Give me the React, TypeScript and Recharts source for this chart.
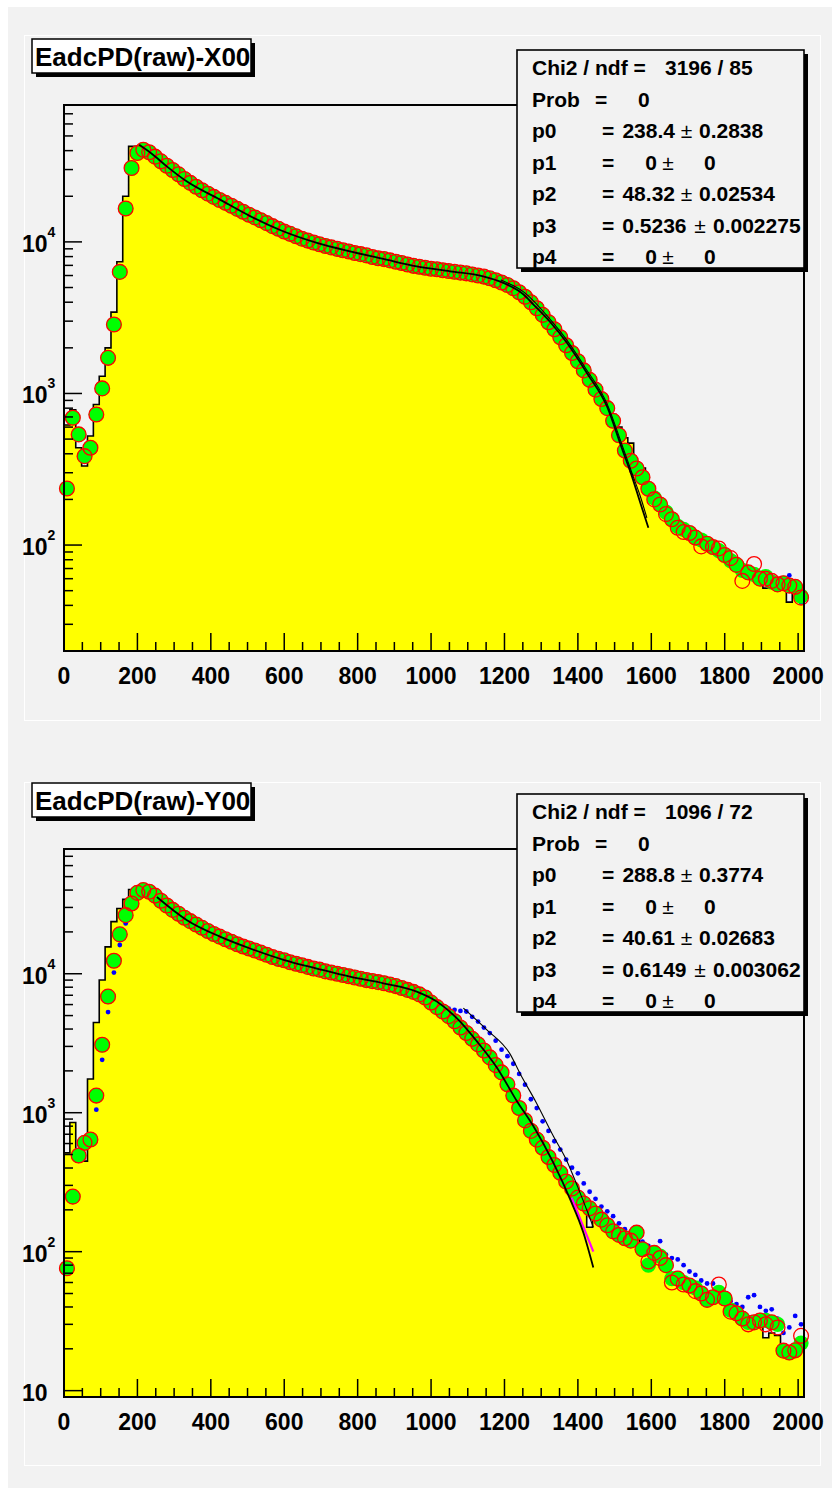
import { ComposedChart, Area, Line, XAxis, YAxis } from 'recharts';

// bin width of the ADC histograms
const BIN = 16;
const X_MAX = 2016;
const FONT = "'Liberation Sans', Arial, Helvetica, sans-serif";

const xTicks = [0, 50, 100, 150, 200, 250, 300, 350, 400, 450, 500, 550, 600, 650, 700, 750, 800, 850, 900, 950, 1000,
  1050, 1100, 1150, 1200, 1250, 1300, 1350, 1400, 1450, 1500, 1550, 1600, 1650, 1700, 1750, 1800, 1850, 1900, 1950, 2000];

const yTicksTop = [20, 30, 40, 50, 60, 70, 80, 90, 100, 200, 300, 400, 500, 600, 700, 800, 900,
  1000, 2000, 3000, 4000, 5000, 6000, 7000, 8000, 9000, 10000, 20000, 30000, 40000, 50000, 60000, 70000, 80000];
const yTicksBottom = [10, 20, 30, 40, 50, 60, 70, 80, 90, 100, 200, 300, 400, 500, 600, 700, 800, 900,
  1000, 2000, 3000, 4000, 5000, 6000, 7000, 8000, 9000, 10000, 20000, 30000, 40000, 50000, 60000, 70000];

// ---- X00 ----
const histX = [620, 780, 438, 332, 524, 845, 1300, 2000, 3440, 7400, 20000, 42700, 42700, 41500, 39000, 36500, 34000, 31800, 29800, 27900,
  26000, 24500, 23100, 21900, 20800, 19800, 18900, 18100, 17300, 16500, 15800, 15100, 14500, 13900, 13300, 12700, 12200, 11700, 11300, 10900,
  10500, 10200, 9900, 9650, 9400, 9200, 9000, 8800, 8650, 8450, 8300, 8150, 7950, 7800, 7700, 7550, 7400, 7250, 7100, 6950,
  6850, 6750, 6650, 6600, 6500, 6420, 6350, 6270, 6200, 6100, 6000, 5900, 5750, 5580, 5400, 5200, 4950, 4650, 4350, 4000,
  3650, 3300, 2950, 2650, 2350, 2080, 1850, 1630, 1420, 1230, 1060, 920, 800, 727, 600, 510, 470, 348, 322, 252,
  211, 172, 152, 145, 135, 128, 120, 112, 108, 102, 97, 92, 86, 79, 74, 68, 66, 64, 60, 52,
  57, 55, 56, 42, 53, 45];
const greenX = [236, 692, 537, 386, 438, 727, 1080, 1718, 2850, 6340, 16600, 30700, 38600, 40500, 39000, 36500, 34000, 31800, 29800, 27900,
  26000, 24500, 23100, 21900, 20800, 19800, 18900, 18100, 17300, 16500, 15800, 15100, 14500, 13900, 13300, 12700, 12200, 11700, 11300, 10900,
  10500, 10200, 9900, 9650, 9400, 9200, 9000, 8800, 8650, 8450, 8300, 8150, 7950, 7800, 7700, 7550, 7400, 7250, 7100, 6950,
  6850, 6750, 6650, 6600, 6500, 6420, 6350, 6270, 6200, 6100, 6000, 5900, 5750, 5580, 5400, 5200, 4950, 4650, 4350, 4000,
  3650, 3300, 2950, 2650, 2350, 2080, 1850, 1630, 1420, 1230, 1060, 920, 800, 660, 530, 420, 360, 320, 280, 235,
  205, 185, 165, 148, 133, 127, 120, 112, 108, 102, 97, 92, 86, 79, 74, 68, 66, 64, 60, 62,
  57, 55, 56, 54, 53, 46];
const redX = [236, 692, 537, 386, 438, 727, 1080, 1718, 2850, 6340, 16600, 30700, 38600, 40500, 39000, 36500, 34000, 31800, 29800, 27900,
  26000, 24500, 23100, 21900, 20800, 19800, 18900, 18100, 17300, 16500, 15800, 15100, 14500, 13900, 13300, 12700, 12200, 11700, 11300, 10900,
  10500, 10200, 9900, 9650, 9400, 9200, 9000, 8800, 8650, 8450, 8300, 8150, 7950, 7800, 7700, 7550, 7400, 7250, 7100, 6950,
  6850, 6750, 6650, 6600, 6500, 6420, 6350, 6270, 6200, 6100, 6000, 5900, 5750, 5580, 5400, 5200, 4950, 4650, 4350, 4000,
  3650, 3300, 2950, 2650, 2350, 2080, 1850, 1630, 1420, 1230, 1060, 920, 800, 660, 530, 420, 360, 320, 280, 235,
  200, 185, 160, 148, 130, 122, 120, 112, 98, 102, 97, 95, 86, 82, 74, 58, 66, 75, 60, 60,
  58, 55, 56, 54, 53, 45];
const blueX = [230, 680, 530, 380, 430, 700, 1050, 1680, 2800, 6200, 16200, 30000, 38000, 40000, 38600, 36200, 33800, 31600, 29600, 27700,
  25800, 24300, 23000, 21800, 20700, 19700, 18800, 18000, 17200, 16400, 15700, 15000, 14400, 13800, 13200, 12600, 12100, 11600, 11200, 10800,
  10400, 10100, 9850, 9600, 9350, 9150, 8950, 8750, 8600, 8400, 8250, 8100, 7900, 7750, 7650, 7500, 7350, 7200, 7050, 6900,
  6800, 6700, 6600, 6550, 6450, 6380, 6300, 6230, 6150, 6050, 5950, 5850, 5700, 5550, 5380, 5180, 4930, 4630, 4330, 3980,
  3640, 3290, 2940, 2640, 2340, 2070, 1840, 1620, 1410, 1220, 1050, 915, 795, 655, 525, 418, 358, 318, 278, 233,
  204, 184, 164, 147, 132, 126, 119, 111, 107, 101, 96, 91, 85, 78, 73, 67, 65, 63, 59, 61,
  56, 54, 55, 63, 52, 42];
const fitX = [[205, 43700], [240, 38000], [280, 31500], [334, 25100], [425, 19000], [507, 14800], [597, 11750], [689, 9850],
  [779, 8660], [870, 7720], [961, 6900], [1052, 6400], [1142, 5930], [1197, 5370], [1252, 4500], [1279, 3860], [1325, 2950],
  [1370, 2160], [1424, 1370], [1479, 824], [1520, 434], [1547, 285], [1570, 190], [1592, 130]];
const fitX2 = [[1190, 5600], [1252, 4680], [1325, 3070], [1370, 2250], [1424, 1430], [1479, 860], [1520, 460], [1547, 300],
  [1570, 210], [1588, 151]];

// ---- Y00 ----
const histY = [514, 851, 448, 448, 1750, 4460, 9020, 15600, 23700, 29500, 34300, 40400, 42000, 41000, 38900, 36500, 33500, 31000, 28800, 27000,
  25300, 23900, 22600, 21400, 20300, 19300, 18500, 17700, 17000, 16300, 15700, 15200, 14700, 14200, 13700, 13200, 12800, 12500, 12100, 11800,
  11500, 11200, 10900, 10700, 10400, 10200, 10000, 9800, 9600, 9400, 9200, 9000, 8850, 8700, 8550, 8350, 8150, 7900, 7650, 7400,
  7100, 6750, 6200, 5750, 5350, 4950, 4550, 4100, 3750, 3400, 3100, 2800, 2500, 2200, 1950, 1600, 1330, 1080, 880, 740,
  640, 560, 480, 420, 370, 320, 285, 245, 222, 150, 188, 170, 155, 140, 132, 125, 120, 130, 104, 95,
  98, 93, 80, 64, 64, 60, 57, 55, 50, 45, 47, 51, 46, 38, 36, 33, 31, 31, 32, 24,
  26, 25, 19.4, 18.8, 19.5, 22];
const greenY = [76, 249, 492, 607, 641, 1328, 3080, 6850, 12400, 19200, 26400, 32000, 38200, 40000, 38900, 36500, 33500, 31000, 28800, 27000,
  25300, 23900, 22600, 21400, 20300, 19300, 18500, 17700, 17000, 16300, 15700, 15200, 14700, 14200, 13700, 13200, 12800, 12500, 12100, 11800,
  11500, 11200, 10900, 10700, 10400, 10200, 10000, 9800, 9600, 9400, 9200, 9000, 8850, 8700, 8550, 8350, 8150, 7900, 7650, 7400,
  7100, 6750, 6200, 5750, 5350, 4950, 4550, 4100, 3750, 3400, 3100, 2800, 2500, 2200, 1950, 1600, 1330, 1080, 880, 740,
  640, 560, 480, 420, 370, 320, 285, 245, 222, 205, 188, 170, 155, 140, 132, 125, 120, 137, 104, 80,
  98, 93, 80, 64, 64, 60, 57, 55, 50, 45, 47, 51, 46, 38, 36, 33, 31, 31, 32, 32,
  31, 30, 19.4, 18.8, 19.5, 22];
const redY = [76, 249, 492, 607, 641, 1328, 3080, 6850, 12400, 19200, 26400, 32000, 38200, 40000, 38900, 36500, 33500, 31000, 28800, 27000,
  25300, 23900, 22600, 21400, 20300, 19300, 18500, 17700, 17000, 16300, 15700, 15200, 14700, 14200, 13700, 13200, 12800, 12500, 12100, 11800,
  11500, 11200, 10900, 10700, 10400, 10200, 10000, 9800, 9600, 9400, 9200, 9000, 8850, 8700, 8550, 8350, 8150, 7900, 7650, 7400,
  7100, 6750, 6200, 5750, 5350, 4950, 4550, 4100, 3750, 3400, 3100, 2800, 2500, 2200, 1950, 1600, 1330, 1080, 880, 740,
  640, 560, 480, 420, 370, 320, 285, 245, 222, 205, 188, 170, 155, 140, 132, 125, 120, 137, 104, 85,
  98, 90, 80, 60, 64, 58, 57, 52, 50, 45, 47, 58, 46, 37, 36, 33, 30, 31, 32, 30,
  31, 28.5, 19.4, 18.8, 19.5, 24.8];
const blueY = [70, 230, 450, 560, 590, 1052, 2400, 5300, 10200, 16100, 23000, 31000, 37500, 39500, 38500, 36200, 33300, 30800, 28600, 26800,
  25100, 23700, 22400, 21200, 20100, 19100, 18300, 17500, 16800, 16100, 15500, 15000, 14500, 14000, 13500, 13000, 12600, 12300, 11900, 11600,
  11300, 11000, 10700, 10500, 10200, 10000, 9800, 9600, 9400, 9200, 9000, 8800, 8650, 8500, 8350, 8150, 7950, 7700, 7450, 7200,
  6900, 6550, 6200, 5900, 5700, 5600, 5500, 5400, 5350, 4900, 4530, 4100, 3740, 3300, 2840, 2550, 2250, 1900, 1590, 1250,
  1080, 867, 740, 623, 543, 460, 402, 366, 310, 270, 240, 211, 195, 180, 160, 145, 138, 130, 118, 110,
  105, 119, 95, 90, 88, 80, 72, 68, 62, 59, 59, 52, 50, 44, 42, 40, 47, 48.6, 40, 37.5,
  38.5, 33, 26, 28.5, 34.5, 30];
const fitY = [[253, 35700], [335, 24300], [425, 18500], [507, 15200], [598, 12600], [689, 10900], [779, 9520], [870, 8540],
  [961, 7440], [1016, 6300], [1070, 4790], [1125, 3260], [1180, 2100], [1234, 1210], [1279, 798], [1333, 437], [1379, 238],
  [1415, 137], [1442, 77]];
const fitY2 = [[1088, 5650], [1152, 3950], [1215, 2650], [1243, 1900], [1286, 1190], [1333, 680], [1370, 450], [1400, 290],
  [1429, 185], [1442, 150]];
const fitY3 = [[1383, 245], [1442, 100]];

const toSteps = (vals: number[]) => [...vals.map((v, i) => ({ x: i * BIN, v })), { x: vals.length * BIN, v: vals[vals.length - 1] }];
const toBins = (vals: number[]) => vals.map((v, i) => ({ x: i * BIN + BIN / 2, v }));
const toPts = (pts: number[][]) => pts.map(([x, v]) => ({ x, v }));

const XTick = (props: any) => {
  const { x, y, payload } = props;
  const v = payload.value;
  const major = v % 200 === 0;
  return (
    <g>
      <line x1={x} x2={x} y1={y} y2={y - (major ? 18 : 9)} stroke="#000" strokeWidth={1.5} />
      {major && (
        <text x={x} y={y + 33} textAnchor="middle" fontSize={23} fontWeight="bold" fontFamily={FONT} fill="#000">
          {v}
        </text>
      )}
    </g>
  );
};

const YTick = (props: any) => {
  const { x, y, payload } = props;
  const v = payload.value;
  const e = Math.round(Math.log10(v));
  const major = Math.abs(Math.log10(v) - e) < 1e-9;
  return (
    <g>
      <line x1={x} x2={x + (major ? 18 : 9)} y1={y} y2={y} stroke="#000" strokeWidth={1.5} />
      {major && (
        <text x={22} y={y + 10} fontSize={23} fontWeight="bold" fontFamily={FONT} fill="#000">
          10
          {e > 1 && (
            <tspan fontSize={14} dy={-15}>
              {e}
            </tspan>
          )}
        </text>
      )}
    </g>
  );
};

type StatRow = { name: string; val: string; err: string; valEnd: number; pm: number; errX: number };

const H = 744;

const Axes = (p: { ymin: number; ymax: number; yTicks: number[]; plotBottom: number; bare?: boolean }) => [
  <XAxis key="x" type="number" dataKey="x" domain={[0, X_MAX]} ticks={xTicks} interval={0} tickSize={0} tickMargin={0}
    tickLine={false} axisLine={false} height={H - p.plotBottom} tick={p.bare ? false : <XTick />} />,
  <YAxis key="y" type="number" scale="log" domain={[p.ymin, p.ymax]} ticks={p.yTicks} interval={0} tickSize={0} tickMargin={0}
    tickLine={false} axisLine={false} width={64} tick={p.bare ? false : <YTick />} />,
];

const Panel = (p: {
  top: number; ymin: number; ymax: number; yTicks: number[]; plotBottom: number; title: string; chi: string;
  rows: StatRow[]; hist: number[]; green: number[]; red: number[]; blue: number[];
  fit: number[][]; fit2: number[][]; fit3?: number[][];
}) => {
  const greenDot = (d: any) => <circle key={`g${d.index}`} cx={d.cx} cy={d.cy} r={7.6} fill="#00ff00" stroke="none" />;
  const redDot = (d: any) => <circle key={`r${d.index}`} cx={d.cx} cy={d.cy} r={7.4} fill="none" stroke="#ff0000" strokeWidth={1.3} />;
  const blueDot = (d: any) => <circle key={`b${d.index}`} cx={d.cx} cy={d.cy} r={2.4} fill="#0000ff" stroke="none" />;
  const steps = toSteps(p.hist);
  const margin = { top: 105, right: 28, bottom: 0, left: 0 };
  return (
    <div style={{ position: 'absolute', left: 0, top: p.top, width: 832, height: H }}>
      <ComposedChart width={832} height={H} margin={margin}>
        {Axes(p)}
        <Area data={steps} dataKey="v" type="stepAfter" baseValue={p.ymin} fill="#ffff00" fillOpacity={1} stroke="none"
          isAnimationActive={false} />
        <Line data={steps} dataKey="v" type="stepAfter" stroke="#000" strokeWidth={1.6} dot={false} isAnimationActive={false} />
        <Line data={toBins(p.blue)} dataKey="v" stroke="none" dot={blueDot} isAnimationActive={false} />
        <Line data={toBins(p.green)} dataKey="v" stroke="none" dot={greenDot} isAnimationActive={false} />
        <Line data={toBins(p.red)} dataKey="v" stroke="none" dot={redDot} isAnimationActive={false} />
      </ComposedChart>
      {/* fit functions are drawn on top of the markers */}
      <div style={{ position: 'absolute', left: 0, top: 0, pointerEvents: 'none' }}>
        <ComposedChart width={832} height={H} margin={margin}>
          {Axes({ ...p, bare: true })}
          <Line data={toPts(p.fit2)} dataKey="v" type="monotone" stroke="#000" strokeWidth={1.1} dot={false} isAnimationActive={false} />
          {p.fit3 && (
            <Line data={toPts(p.fit3)} dataKey="v" type="linear" stroke="#ff00ff" strokeWidth={2.2} dot={false} isAnimationActive={false} />
          )}
          <Line data={toPts(p.fit)} dataKey="v" type="monotone" stroke="#000" strokeWidth={1.8} dot={false} isAnimationActive={false} />
        </ComposedChart>
      </div>
      <svg width={832} height={H} style={{ position: 'absolute', left: 0, top: 0, pointerEvents: 'none' }}>
        <rect x={64} y={105} width={740} height={p.plotBottom - 105} fill="none" stroke="#000" strokeWidth={2} />
        <rect x={36} y={43} width={219} height={34} fill="#000" />
        <rect x={32} y={39} width={219} height={34} fill="#ffffff" stroke="#000" strokeWidth={1.5} />
        <text x={35} y={66} fontSize={26} fontWeight="bold" fontFamily={FONT} fill="#000">{p.title}</text>
        <rect x={521} y={54} width={287} height={218} fill="#000" />
        <rect x={517} y={50} width={287} height={218} fill="#f2f2f2" stroke="#000" strokeWidth={1.6} />
        <g fontSize={21} fontWeight="bold" fontFamily={FONT} fill="#000">
          <text x={532} y={75}>Chi2 / ndf =</text>
          <text x={665} y={75}>{p.chi}</text>
          <text x={532} y={106.5}>Prob</text>
          <text x={595} y={106.5}>=</text>
          <text x={638} y={106.5}>0</text>
          {p.rows.map((r, i) => {
            const yy = 138 + i * 31.5;
            return (
              <g key={r.name}>
                <text x={532} y={yy}>{r.name}</text>
                <text x={602} y={yy}>=</text>
                <text x={r.valEnd} y={yy} textAnchor="end">{r.val}</text>
                <text x={r.pm} y={yy} textAnchor="middle" fontWeight="normal">±</text>
                <text x={r.errX} y={yy}>{r.err}</text>
              </g>
            );
          })}
        </g>
      </svg>
    </div>
  );
};

const rowsX: StatRow[] = [
  { name: 'p0', val: '238.4', err: '0.2838', valEnd: 675, pm: 686.5, errX: 699 },
  { name: 'p1', val: '0', err: '0', valEnd: 657, pm: 668, errX: 704 },
  { name: 'p2', val: '48.32', err: '0.02534', valEnd: 675, pm: 686.5, errX: 699 },
  { name: 'p3', val: '0.5236', err: '0.002275', valEnd: 686.5, pm: 700, errX: 713 },
  { name: 'p4', val: '0', err: '0', valEnd: 657, pm: 668, errX: 704 },
];
const rowsY: StatRow[] = [
  { name: 'p0', val: '288.8', err: '0.3774', valEnd: 675, pm: 686.5, errX: 699 },
  { name: 'p1', val: '0', err: '0', valEnd: 657, pm: 668, errX: 704 },
  { name: 'p2', val: '40.61', err: '0.02683', valEnd: 675, pm: 686.5, errX: 699 },
  { name: 'p3', val: '0.6149', err: '0.003062', valEnd: 686.5, pm: 700, errX: 713 },
  { name: 'p4', val: '0', err: '0', valEnd: 657, pm: 668, errX: 704 },
];

export default function App() {
  return (
    <div style={{ position: 'absolute', left: 0, top: 0, width: 832, height: 1488, background: '#ffffff', overflow: 'hidden' }}>
      <div style={{ position: 'absolute', left: 8, top: 7, width: 824, height: 1481, background: '#f2f2f2' }} />
      <div style={{ position: 'absolute', left: 24, top: 35, width: 795, height: 684, border: '1px solid #ffffff' }} />
      <div style={{ position: 'absolute', left: 24, top: 782, width: 795, height: 682, border: '1px solid #ffffff' }} />
      <Panel top={0} ymin={20} ymax={80000} yTicks={yTicksTop} plotBottom={651} title="EadcPD(raw)-X00" chi="3196 / 85"
        rows={rowsX} hist={histX} green={greenX} red={redX} blue={blueX} fit={fitX} fit2={fitX2} />
      <Panel top={744} ymin={9} ymax={79000} yTicks={yTicksBottom} plotBottom={653} title="EadcPD(raw)-Y00" chi="1096 / 72"
        rows={rowsY} hist={histY} green={greenY} red={redY} blue={blueY} fit={fitY} fit2={fitY2} fit3={fitY3} />
    </div>
  );
}
